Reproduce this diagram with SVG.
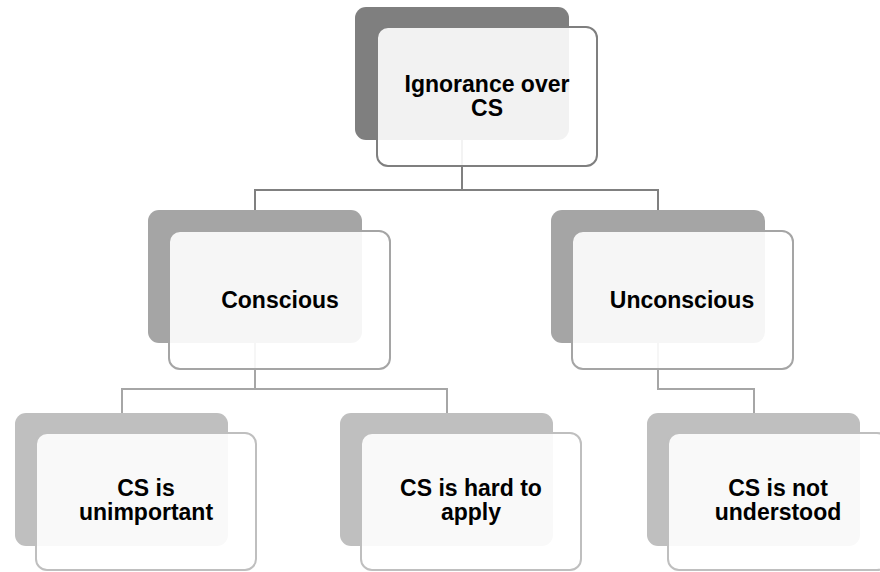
<svg xmlns="http://www.w3.org/2000/svg" width="880" height="572" viewBox="0 0 880 572">
  <style>
    .t { font-family: "Liberation Sans", Arial, sans-serif; font-weight: bold; font-size: 23px; fill: #000; text-anchor: middle; }
    .c1 { fill: none; stroke: #808080; stroke-width: 2; }
    .c2 { fill: none; stroke: #a6a6a6; stroke-width: 2; }
    .b1 { fill: #7f7f7f; }
    .b2 { fill: #a5a5a5; }
    .b3 { fill: #bfbfbf; }
    .f { fill: #ffffff; fill-opacity: 0.9; stroke-width: 2; }
    .f1 { stroke: #7f7f7f; }
    .f2 { stroke: #a5a5a5; }
    .f3 { stroke: #bfbfbf; }
  </style>
  <rect width="880" height="572" fill="#ffffff"/>
  <g id="connectors">
    <path class="c1" d="M462 140 V190 M255 210 V190 H658 V210"/>
    <path class="c2" d="M255 343 V389 M122 413 V389 H447 V413"/>
    <path class="c2" d="M658 343 V389 H754 V413"/>
  </g>
  <g id="n-root">
    <rect class="b1" x="355" y="7" width="214" height="133" rx="11"/>
    <rect class="f f1" x="377" y="27" width="220" height="139" rx="11"/>
    <text class="t" x="487" y="92">Ignorance over</text>
    <text class="t" x="487" y="116">CS</text>
  </g>
  <g id="n-conscious">
    <rect class="b2" x="148" y="210" width="214" height="133" rx="11"/>
    <rect class="f f2" x="169" y="231" width="221" height="138" rx="11"/>
    <text class="t" x="280" y="308">Conscious</text>
  </g>
  <g id="n-unconscious">
    <rect class="b2" x="551" y="210" width="214" height="133" rx="11"/>
    <rect class="f f2" x="572" y="231" width="221" height="138" rx="11"/>
    <text class="t" x="682" y="308">Unconscious</text>
  </g>
  <g id="n-unimportant">
    <rect class="b3" x="15" y="413" width="213" height="133" rx="11"/>
    <rect class="f f3" x="36" y="433" width="220" height="137" rx="11"/>
    <text class="t" x="146" y="496">CS is</text>
    <text class="t" x="146" y="520">unimportant</text>
  </g>
  <g id="n-hard">
    <rect class="b3" x="340" y="413" width="213" height="133" rx="11"/>
    <rect class="f f3" x="361" y="433" width="220" height="137" rx="11"/>
    <text class="t" x="471" y="496">CS is hard to</text>
    <text class="t" x="471" y="520">apply</text>
  </g>
  <g id="n-notunderstood">
    <rect class="b3" x="647" y="413" width="213" height="133" rx="11"/>
    <rect class="f f3" x="668" y="433" width="220" height="137" rx="11"/>
    <text class="t" x="778" y="496">CS is not</text>
    <text class="t" x="778" y="520">understood</text>
  </g>
</svg>
